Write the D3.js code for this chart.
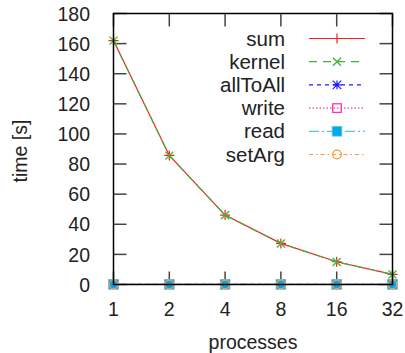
<!DOCTYPE html>
<html>
<head>
  <meta charset="utf-8">
  <script src="https://d3js.org/d3.v7.min.js"></script>
  <style>
    body { margin: 0; background: #fff; }
    svg text { font-family: "Liberation Sans", Arial, sans-serif; font-size: 19.5px; fill: #222; }
    svg .legend text { font-size: 20.5px; }
  </style>
</head>
<body>
  <div id="chart"></div>
  <script>
    const processes = [1, 2, 4, 8, 16, 32];
    const sum      = [162, 85.7, 46.1, 27.3, 15.1, 6.7];
    const kernel   = [162, 85.6, 46.0, 27.2, 15.0, 6.6];
    const allToAll = [0.05, 0.05, 0.05, 0.05, 0.05, 0.05];
    const write    = [0.1, 0.1, 0.1, 0.1, 0.1, 0.1];
    const read     = [0.1, 0.1, 0.1, 0.1, 0.1, 0.1];
    const setArg   = [0.05, 0.05, 0.05, 0.05, 0.05, 0.05];
    const yTicks = [0, 20, 40, 60, 80, 100, 120, 140, 160, 180];

    const series = [
      { name: "sum", values: sum, color: "#ff1a1a", dash: null, marker: "plus" },
      { name: "kernel", values: kernel, color: "#3cb43c", dash: "8,6", marker: "cross" },
      { name: "allToAll", values: allToAll, color: "#1a1aff", dash: "4,4", marker: "star" },
      { name: "write", values: write, color: "#ff33aa", dash: "1.5,2", marker: "square" },
      { name: "read", values: read, color: "#55c4f0", dash: "10,3,2,3", marker: "fsquare" },
      { name: "setArg", values: setArg, color: "#ff9933", dash: "4,3,1.5,3", marker: "circle" }
    ];

    const width = 405, height = 353;
    const svg = d3.select("#chart").append("svg").attr("width", width).attr("height", height);

    const x = d3.scaleLog().base(2).domain([1, 32]).range([113.5, 392.5]);
    const y = d3.scaleLinear().domain([0, 180]).range([284.5, 13.5]);

    // ticks (inward, mirrored)
    const tickLen = 13;
    const ticks = svg.append("g").attr("stroke", "#444").attr("stroke-width", 1.5);
    yTicks.forEach(v => {
      ticks.append("line").attr("x1", x(1)).attr("x2", x(1) + tickLen).attr("y1", y(v)).attr("y2", y(v));
      ticks.append("line").attr("x1", x(32)).attr("x2", x(32) - tickLen).attr("y1", y(v)).attr("y2", y(v));
    });
    processes.forEach(p => {
      ticks.append("line").attr("x1", x(p)).attr("x2", x(p)).attr("y1", y(0)).attr("y2", y(0) - tickLen);
      ticks.append("line").attr("x1", x(p)).attr("x2", x(p)).attr("y1", y(180)).attr("y2", y(180) + tickLen);
    });

    // tick labels
    svg.append("g").selectAll("text").data(yTicks).enter().append("text")
      .attr("x", 90).attr("y", d => y(d)).attr("dy", "0.37em")
      .attr("text-anchor", "end").text(d => d);
    svg.append("g").selectAll("text").data(processes).enter().append("text")
      .attr("x", d => x(d)).attr("y", 316)
      .attr("text-anchor", "middle").text(d => d);

    svg.append("text").attr("transform", "translate(27,151) rotate(-90)")
      .attr("text-anchor", "middle").text("time [s]");
    svg.append("text").attr("x", (x(1) + x(32)) / 2).attr("y", 349)
      .attr("text-anchor", "middle").text("processes");

    function drawMarker(g, type, cx, cy, color) {
      const s = 4.3;
      if (type === "plus") {
        g.append("path").attr("d", `M${cx - 5},${cy}H${cx + 5}M${cx},${cy - 5}V${cy + 5}`)
          .attr("stroke", color).attr("stroke-width", 1.2).attr("fill", "none");
      } else if (type === "cross") {
        g.append("path").attr("d", `M${cx - 4},${cy - 4}L${cx + 4},${cy + 4}M${cx - 4},${cy + 4}L${cx + 4},${cy - 4}`)
          .attr("stroke", color).attr("stroke-width", 1.3).attr("fill", "none");
      } else if (type === "star") {
        g.append("path").attr("d", `M${cx - s},${cy}H${cx + s}M${cx},${cy - s}V${cy + s}M${cx - s},${cy - s}L${cx + s},${cy + s}M${cx - s},${cy + s}L${cx + s},${cy - s}`)
          .attr("stroke", color).attr("stroke-width", 1.2).attr("fill", "none");
      } else if (type === "square") {
        g.append("rect").attr("x", cx - s).attr("y", cy - s).attr("width", 2 * s).attr("height", 2 * s)
          .attr("stroke", color).attr("stroke-width", 1.3).attr("fill", "none");
      } else if (type === "fsquare") {
        g.append("rect").attr("x", cx - s - 0.5).attr("y", cy - s - 0.5).attr("width", 2 * s + 1).attr("height", 2 * s + 1)
          .attr("stroke", "#55c4f0").attr("stroke-width", 0.8).attr("fill", "#00a8ec");
      } else if (type === "circle") {
        g.append("circle").attr("cx", cx).attr("cy", cy).attr("r", s)
          .attr("stroke", color).attr("stroke-width", 1.3).attr("fill", "none");
      }
    }

    const line = d3.line().x((d, i) => x(processes[i])).y(d => y(d));
    const plot = svg.append("g");
    series.forEach(s => {
      plot.append("path").datum(s.values).attr("d", line)
        .attr("fill", "none").attr("stroke", s.color).attr("stroke-width", 1.2)
        .attr("stroke-dasharray", s.dash);
      s.values.forEach((v, i) => drawMarker(plot, s.marker, x(processes[i]), y(v), s.color));
    });

    // frame
    svg.append("rect").attr("x", x(1)).attr("y", y(180))
      .attr("width", x(32) - x(1)).attr("height", y(0) - y(180))
      .attr("fill", "none").attr("stroke", "#000").attr("stroke-width", 1.5);

    // legend
    const legend = svg.append("g").attr("class", "legend");
    series.forEach((s, i) => {
      const ly = 38.5 + i * 23.2;
      legend.append("text").attr("x", 285).attr("y", ly).attr("dy", "0.35em")
        .attr("text-anchor", "end").text(s.name);
      legend.append("line").attr("x1", 309).attr("x2", 365).attr("y1", ly).attr("y2", ly)
        .attr("stroke", s.color).attr("stroke-width", 1.2).attr("stroke-dasharray", s.dash);
      drawMarker(legend, s.marker, 337, ly, s.color);
    });
  </script>
</body>
</html>
